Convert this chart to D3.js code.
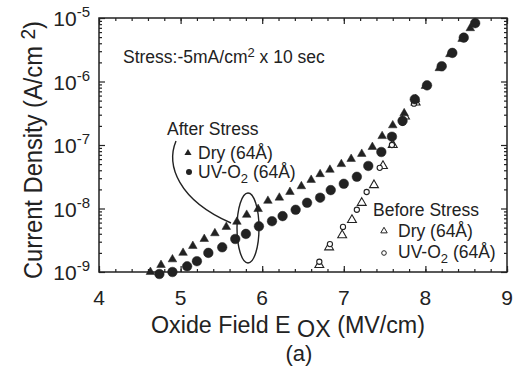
<!DOCTYPE html>
<html>
<head>
<meta charset="utf-8">
<script src="https://cdn.jsdelivr.net/npm/d3@7"></script>
<style>
  body { margin: 0; background: #fff; }
  svg { font-family: "Liberation Sans", Arial, sans-serif; }
  .axis path, .axis line { stroke: #222; }
</style>
</head>
<body>
<svg width="527" height="366"></svg>
<script>
// After stress, dry oxide (filled triangles)
const afterDryE = [4.63, 4.76, 4.90, 5.03, 5.15, 5.29, 5.42, 5.56, 5.69, 5.81, 5.95, 6.07, 6.21, 6.34, 6.48, 6.60,
  6.71, 6.83, 6.97, 7.09, 7.22, 7.35, 7.47, 7.60, 7.74, 7.88, 8.00, 8.17, 8.30, 8.45, 8.55];
const afterDryJ = [1.0e-9, 1.29e-9, 1.58e-9, 2.0e-9, 2.57e-9, 3.31e-9, 4.07e-9, 5.13e-9, 6.17e-9, 7.94e-9, 9.8e-9,
  1.32e-8, 1.48e-8, 1.82e-8, 2.24e-8, 2.82e-8, 3.47e-8, 4.07e-8, 5.0e-8, 6.03e-8, 7.24e-8, 9.3e-8, 1.38e-7,
  2.04e-7, 3.16e-7, 5.25e-7, 8.5e-7, 1.62e-6, 2.69e-6, 4.68e-6, 6.9e-6];

// After stress, UV-O2 oxide (filled circles)
const afterUvE = [4.74, 4.90, 5.08, 5.20, 5.34, 5.51, 5.67, 5.80, 5.96, 6.12, 6.25, 6.41, 6.55, 6.71, 6.84, 7.00,
  7.16, 7.30, 7.46, 7.59, 7.72, 7.87, 8.02, 8.20, 8.33, 8.47, 8.61];
const afterUvJ = [9.3e-10, 1.0e-9, 1.23e-9, 1.48e-9, 2.0e-9, 2.45e-9, 3.31e-9, 3.98e-9, 5.25e-9, 6.31e-9, 7.59e-9,
  9.55e-9, 1.23e-8, 1.48e-8, 1.95e-8, 2.45e-8, 3.16e-8, 4.68e-8, 7.76e-8, 1.35e-7, 2.4e-7, 5.25e-7, 8.7e-7,
  1.74e-6, 2.82e-6, 4.9e-6, 8.3e-6];

// Before stress, dry oxide (open triangles)
const beforeDryE = [6.70, 6.82, 6.98, 7.10, 7.22, 7.37, 7.48, 7.60, 7.75, 7.88];
const beforeDryJ = [1.29e-9, 2.45e-9, 3.8e-9, 6.6e-9, 1.23e-8, 2.34e-8, 4.68e-8, 1.0e-7, 2.82e-7, 4.68e-7];

// Before stress, UV-O2 oxide (open circles)
const beforeUvE = [6.70, 6.83, 6.99, 7.16, 7.28, 7.44, 7.59, 7.72, 7.86];
const beforeUvJ = [1.45e-9, 2.75e-9, 5.13e-9, 9.55e-9, 1.82e-8, 4.37e-8, 1.0e-7, 2.24e-7, 4.47e-7];

const xTicks = [4, 5, 6, 7, 8, 9];
const yTickExps = [-5, -6, -7, -8, -9];

const svg = d3.select('svg');
const margin = {left: 99, top: 18, right: 20, bottom: 94};
const width = 527 - margin.left - margin.right;
const height = 366 - margin.top - margin.bottom;

const x = d3.scaleLinear().domain([4, 9]).range([0, width]);
const y = d3.scaleLog().domain([1e-9, 1e-5]).range([height, 0]);

const g = svg.append('g').attr('transform', `translate(${margin.left},${margin.top})`);

// frame
g.append('rect')
  .attr('width', width).attr('height', height)
  .attr('fill', 'none').attr('stroke', '#222').attr('stroke-width', 1.5);

const xMinor = d3.range(4, 9.001, 0.2).map(v => +v.toFixed(1));
const yMajor = yTickExps.map(e => Math.pow(10, e));
const yMinor = y.ticks().filter(v => !yMajor.some(m => Math.abs(v / m - 1) < 1e-6));

function tickAxis(axis, tr) {
  const a = g.append('g').attr('class', 'axis').attr('transform', tr).call(axis);
  a.select('.domain').remove();
  a.selectAll('text').remove();
  a.selectAll('line').attr('stroke-width', 1.2);
  return a;
}
tickAxis(d3.axisBottom(x).tickValues(xTicks).tickSize(-6), `translate(0,${height})`);
tickAxis(d3.axisBottom(x).tickValues(xMinor).tickSize(-3), `translate(0,${height})`);
tickAxis(d3.axisTop(x).tickValues(xTicks).tickSize(-6), 'translate(0,0)');
tickAxis(d3.axisTop(x).tickValues(xMinor).tickSize(-3), 'translate(0,0)');
tickAxis(d3.axisLeft(y).tickValues(yMajor).tickSize(-6), 'translate(0,0)');
tickAxis(d3.axisLeft(y).tickValues(yMinor).tickSize(-3), 'translate(0,0)');
tickAxis(d3.axisRight(y).tickValues(yMajor).tickSize(-6), `translate(${width},0)`);
tickAxis(d3.axisRight(y).tickValues(yMinor).tickSize(-3), `translate(${width},0)`);

// x tick labels
g.selectAll('.xlab').data(xTicks).enter().append('text')
  .attr('x', d => x(d)).attr('y', height + 33)
  .attr('text-anchor', 'middle').attr('font-size', 21).attr('fill', '#222')
  .text(d => d);

// y tick labels 10^n
const yl = g.selectAll('.ylab').data(yTickExps).enter().append('text')
  .attr('x', -9).attr('y', d => y(Math.pow(10, d)) + 8)
  .attr('text-anchor', 'end').attr('font-size', 21).attr('fill', '#222');
yl.append('tspan').text('10');
yl.append('tspan').attr('dy', -9).attr('font-size', 15).text(d => '-' + Math.abs(d));

// axis titles
svg.append('text')
  .attr('transform', `translate(42,150) rotate(-90)`)
  .attr('text-anchor', 'middle').attr('font-size', 26).attr('fill', '#222')
  .attr('textLength', 258).attr('lengthAdjust', 'spacingAndGlyphs')
  .call(t => {
    t.append('tspan').text('Current Density (A/cm ');
    t.append('tspan').attr('dy', -7).attr('font-size', 21).text('2');
    t.append('tspan').attr('dy', 7).text(')');
  });

svg.append('text')
  .attr('x', 288).attr('y', 333)
  .attr('text-anchor', 'middle').attr('font-size', 23).attr('fill', '#222')
  .attr('textLength', 274).attr('lengthAdjust', 'spacingAndGlyphs')
  .call(t => {
    t.append('tspan').text('Oxide Field E ');
    t.append('tspan').attr('dy', 4).text('OX');
    t.append('tspan').attr('dy', -4).text(' (MV/cm)');
  });

svg.append('text')
  .attr('x', 299).attr('y', 361)
  .attr('text-anchor', 'middle').attr('font-size', 22).attr('fill', '#222')
  .text('(a)');

// markers
const triUp = d3.symbol().type(d3.symbolTriangle);
const zip = (es, js) => es.map((e, i) => ({e, j: js[i]}));

function drawTriangles(data, size, filled) {
  g.append('g').selectAll('path').data(data).enter().append('path')
    .attr('transform', d => `translate(${x(d.e)},${y(d.j)})`)
    .attr('d', triUp.size(size)())
    .attr('fill', filled ? '#222' : '#fff')
    .attr('stroke', '#222').attr('stroke-width', filled ? 0.5 : 1.1);
}
function drawCircles(data, r, filled) {
  g.append('g').selectAll('circle').data(data).enter().append('circle')
    .attr('cx', d => x(d.e)).attr('cy', d => y(d.j)).attr('r', r)
    .attr('fill', filled ? '#222' : '#fff')
    .attr('stroke', '#222').attr('stroke-width', filled ? 0.5 : 1.1);
}

drawTriangles(zip(beforeDryE, beforeDryJ), 34, false);
drawCircles(zip(beforeUvE, beforeUvJ), 2.6, false);
drawTriangles(zip(afterDryE, afterDryJ), 32, true);
drawCircles(zip(afterUvE, afterUvJ), 4.8, true);

// annotations
const fs = 17.5;
const ann = svg.append('g').attr('fill', '#222');
ann.append('text').attr('x', 123).attr('y', 63).attr('font-size', fs)
  .call(t => {
    t.append('tspan').text('Stress:-5mA/cm');
    t.append('tspan').attr('dy', -6).attr('font-size', 13).text('2');
    t.append('tspan').attr('dy', 6).text(' x 10 sec');
  });

ann.append('text').attr('x', 167).attr('y', 135).attr('font-size', fs).text('After Stress');
ann.append('path').attr('transform', 'translate(188,153)').attr('d', triUp.size(22)());
ann.append('text').attr('x', 198).attr('y', 159).attr('font-size', fs).text('Dry (64Å)');
ann.append('circle').attr('cx', 189).attr('cy', 172).attr('r', 3);
ann.append('text').attr('x', 198).attr('y', 178).attr('font-size', fs)
  .call(t => {
    t.append('tspan').text('UV-O');
    t.append('tspan').attr('dy', 5).attr('font-size', 13).text('2');
    t.append('tspan').attr('dy', -5).text(' (64Å)');
  });

ann.append('text').attr('x', 373).attr('y', 216).attr('font-size', fs).text('Before Stress');
ann.append('path').attr('transform', 'translate(384,231)').attr('d', triUp.size(18)())
  .attr('fill', '#fff').attr('stroke', '#222');
ann.append('text').attr('x', 398).attr('y', 237).attr('font-size', fs).text('Dry (64Å)');
ann.append('circle').attr('cx', 384).attr('cy', 253).attr('r', 2.3)
  .attr('fill', '#fff').attr('stroke', '#222');
ann.append('text').attr('x', 398).attr('y', 258).attr('font-size', fs)
  .call(t => {
    t.append('tspan').text('UV-O');
    t.append('tspan').attr('dy', 5).attr('font-size', 13).text('2');
    t.append('tspan').attr('dy', -5).text(' (64Å)');
  });

// ellipse and leader curve
svg.append('ellipse').attr('cx', 248).attr('cy', 228).attr('rx', 11).attr('ry', 35)
  .attr('fill', 'none').attr('stroke', '#222').attr('stroke-width', 1.4);
svg.append('path').attr('d', 'M176,141 C166,165 178,200 231,223')
  .attr('fill', 'none').attr('stroke', '#222').attr('stroke-width', 1.4);
</script>
</body>
</html>
